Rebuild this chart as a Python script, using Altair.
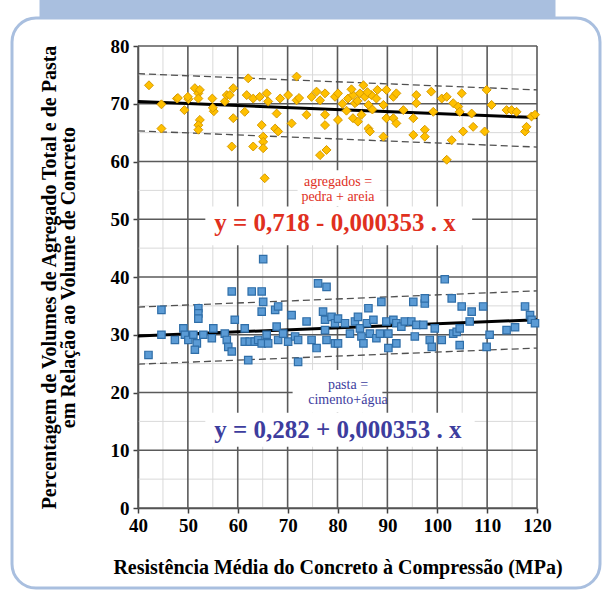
import altair as alt
import pandas as pd

# ---------------- data ----------------
agg_x = [42.2, 44.7, 44.7, 47.8, 49.3, 50.1, 51.4, 52.1, 52.1, 52.4, 52.1, 52.1, 54.9, 55.2,
         57.4, 57.8, 59.1, 59.1, 58.8, 61.8, 62.1, 61.4, 63.1, 64.4, 65.8, 66.1, 64.8, 65.1,
         65.1, 65.1, 63.1, 65.4, 67.8, 67.5, 68.1, 68.5, 70.1, 71.8, 70.8, 71.8, 72.3, 73.8,
         74.8, 75.8, 76.5, 77.5, 77.5, 77.5, 76.5, 77.8, 79.5, 80.1, 80.1, 82.1, 83.1, 83.5,
         84.5, 85.2, 85.5, 86.2, 86.8, 87.8, 89.2, 83.1, 84.1, 84.8, 86.2, 86.5, 89.2, 89.8,
         91.2, 91.8, 89.8, 91.2, 91.8, 93.2, 95.2, 95.2, 95.8, 95.8, 97.5, 97.5, 98.8, 99.2,
         100.9, 101.9, 101.9, 102.9, 103.2, 104.2, 104.5, 104.9, 105.2, 106.9, 107.2, 109.5,
         109.9, 110.9, 113.9, 114.9, 115.9, 117.6, 117.9, 118.9, 119.6,
         48.0, 50.0, 52.4, 55.0, 58.4, 82.8, 81.0, 84.0, 86.0, 87.0, 88.0, 81.8]
agg_y = [73.2, 65.7, 69.9, 70.9, 68.9, 70.8, 72.7, 71.8, 70.9, 67.2, 66.3, 65.5, 70.9, 68.7,
         70.4, 71.5, 72.7, 67.5, 62.6, 71.5, 74.4, 68.6, 70.9, 71.2, 71.8, 70.4, 66.3, 64.3,
         63.4, 62.3, 62.6, 57.1, 68.3, 65.7, 65.2, 70.9, 71.5, 74.7, 66.6, 70.6, 71.0, 68.1,
         71.2, 72.1, 70.6, 71.8, 68.1, 66.3, 61.1, 62.0, 71.2, 71.8, 67.2, 70.9, 71.5, 70.1,
         71.8, 73.2, 71.2, 69.8, 71.5, 70.9, 69.8, 67.5, 66.9, 68.1, 65.7, 65.2, 64.3, 72.4,
         71.2, 71.8, 67.5, 67.5, 66.6, 68.9, 67.5, 64.6, 71.5, 70.1, 65.5, 64.3, 72.1, 68.6,
         70.9, 71.2, 60.3, 63.7, 70.1, 69.5, 68.6, 71.8, 65.2, 68.3, 66.0, 65.2,
         72.4, 69.8, 68.9, 68.9, 68.6, 65.2, 66.0, 67.8, 68.1,
         71.0, 71.2, 72.4, 69.3, 71.5, 72.5, 70.0, 70.5, 72.0, 69.0, 72.4, 68.8]

pas_x = [65.1, 42.1, 44.7, 44.7, 47.4, 49.1, 49.4, 50.1, 51.1, 51.8, 51.4, 52.1, 52.1, 52.1,
         53.1, 54.8, 55.1, 57.4, 57.8, 58.1, 58.8, 58.8, 59.4, 61.4, 61.4, 62.4, 63.4, 64.1,
         64.8, 62.8, 64.8, 65.1, 64.8, 62.1, 65.8, 66.1, 67.5, 68.1, 67.8, 68.1, 69.1, 70.1,
         70.8, 71.5, 72.1, 72.1, 73.8, 74.8, 75.8, 76.1, 77.8, 77.1, 77.5, 77.5, 77.8, 78.8,
         79.5, 79.5, 101.5, 80.1, 80.1, 81.5, 82.5, 83.5, 84.1, 84.5, 84.8, 85.2, 85.9, 86.2,
         86.5, 87.2, 87.8, 88.5, 88.8, 89.8, 90.2, 90.2, 91.2, 91.8, 91.8, 92.8, 93.5, 94.8,
         95.8, 95.5, 97.2, 97.5, 97.5, 95.2, 98.5, 98.9, 99.5, 100.9, 102.9, 103.2, 103.9,
         104.5, 104.5, 104.9, 106.9, 106.5, 109.2, 109.9, 110.5, 113.9, 115.6, 117.6, 118.6,
         118.9, 119.6]
pas_y = [43.1, 26.5, 34.3, 30.0, 29.1, 31.1, 30.0, 29.1, 30.0, 28.5, 27.4, 34.6, 33.7, 32.8,
         30.0, 29.4, 31.1, 30.2, 29.1, 27.9, 27.1, 37.5, 32.6, 31.1, 28.8, 28.8, 28.8, 29.1,
         28.5, 37.5, 37.5, 35.7, 34.0, 25.6, 30.0, 28.5, 34.3, 34.9, 31.4, 29.1, 30.2, 28.8,
         33.4, 29.7, 29.1, 25.3, 32.3, 29.1, 27.7, 38.9, 38.3, 34.0, 32.6, 30.8, 29.1, 33.1,
         32.0, 28.5, 39.6, 32.8, 28.5, 32.0, 30.2, 32.3, 33.1, 31.1, 29.7, 28.5, 32.0, 34.6,
         30.2, 32.6, 29.4, 30.2, 35.7, 32.3, 30.2, 27.7, 32.6, 32.0, 28.5, 31.4, 32.3, 32.3,
         31.7, 29.7, 31.7, 35.4, 36.3, 35.7, 29.1, 27.9, 31.1, 29.1, 36.3, 30.2, 30.5,
         31.1, 28.2, 34.9, 34.0, 32.3, 34.9, 27.9, 30.0, 30.8, 31.3, 34.9, 33.4,
         32.6, 32.0]

line_x = [40, 120]
agg_fit = [70.4, 67.6]
agg_upper = [75.2, 72.4]
agg_lower = [65.3, 62.5]
pas_fit = [29.8, 32.6]
pas_upper = [34.8, 37.6]
pas_lower = [24.9, 27.7]

major_x = [40, 50, 60, 70, 80, 90, 100, 110, 120]
major_y = [0, 10, 20, 30, 40, 50, 60, 70, 80]
minor_x = [45, 55, 65, 75, 85, 95, 105, 115]
minor_y = [5, 15, 25, 35, 45, 55, 65, 75]

labels_text = ["agregados =", "pedra + areia", "y = 0,718 - 0,000353 . x",
               "pasta =", "cimento+água", "y = 0,282 + 0,000353 . x"]
labels_x = [80.1, 80.1, 79.5, 82.1, 82.1, 80.1]
labels_y = [56.4, 53.9, 49.4, 21.3, 18.7, 13.5]
labels_group = ["r_small", "r_small", "r_big", "b_small", "b_small", "b_big"]

box_x1 = [53.5, 72.0, 71.0, 53.5]
box_x2 = [107.0, 88.5, 89.0, 107.5]
box_y1 = [45.5, 52.2, 16.5, 10.6]
box_y2 = [52.2, 58.5, 23.9, 16.5]

# ---------------- tables ----------------
agg_df = pd.DataFrame({"x": agg_x, "y": agg_y})
pas_df = pd.DataFrame({"x": pas_x, "y": pas_y})
rows = []
for name, vals, kind in [("agg_fit", agg_fit, "fit"), ("agg_up", agg_upper, "band"),
                         ("agg_lo", agg_lower, "band"), ("pas_fit", pas_fit, "fit"),
                         ("pas_up", pas_upper, "band"), ("pas_lo", pas_lower, "band")]:
    for xv, yv in zip(line_x, vals):
        rows.append({"x": xv, "y": yv, "line": name, "kind": kind})
lines_df = pd.DataFrame(rows)
lab_df = pd.DataFrame({"t": labels_text, "x": labels_x, "y": labels_y, "g": labels_group})
box_df = pd.DataFrame({"x1": box_x1, "x2": box_x2, "y1": box_y1, "y2": box_y2})

SERIF = "Liberation Serif, Times New Roman, serif"
xs = alt.Scale(domain=[40, 120], nice=False, zero=False)
ys = alt.Scale(domain=[0, 80], nice=False)
xax = alt.Axis(values=major_x, grid=False, title="Resistência Média do Concreto à Compressão (MPa)",
               labelFont=SERIF, labelFontWeight="bold", labelFontSize=19, labelColor="black",
               titleFont=SERIF, titleFontWeight="bold", titleFontSize=20, titleColor="black",
               titlePadding=22, tickColor="#404040", tickSize=5, tickWidth=1.5,
               domainColor="#404040", domainWidth=1.5, labelPadding=3, labelFlush=False)
yax = alt.Axis(values=major_y, grid=False,
               title=["Percentagem de Volumes de Agregado Total e de Pasta",
                      "em Relação ao Volume de Concreto"],
               labelFont=SERIF, labelFontWeight="bold", labelFontSize=19, labelColor="black",
               titleFont=SERIF, titleFontWeight="bold", titleFontSize=20, titleColor="black",
               titleLineHeight=19, titleX=-79, titleY=231, titleAngle=270, titleBaseline="bottom",
               tickColor="#404040", tickSize=5, tickWidth=1.5,
               domainColor="#404040", domainWidth=1.5, labelPadding=4)

X = lambda f: alt.X(f, type="quantitative", scale=xs, axis=xax)
Y = lambda f: alt.Y(f, type="quantitative", scale=ys, axis=yax)

minor_v = alt.Chart(pd.DataFrame({"v": minor_x})).mark_rule(color="#d9d9d9", strokeWidth=1).encode(x=X("v"))
minor_h = alt.Chart(pd.DataFrame({"v": minor_y})).mark_rule(color="#d9d9d9", strokeWidth=1).encode(y=Y("v"))
major_v = alt.Chart(pd.DataFrame({"v": major_x})).mark_rule(color="#5a5a5a", strokeWidth=1.6).encode(x=X("v"))
major_h = alt.Chart(pd.DataFrame({"v": major_y})).mark_rule(color="#5a5a5a", strokeWidth=1.6).encode(y=Y("v"))

boxes = alt.Chart(box_df).mark_rect(color="white").encode(
    x=X("x1"), x2="x2", y=Y("y1"), y2="y2")

band_lines = alt.Chart(lines_df).transform_filter(alt.datum.kind == "band").mark_line(
    color="#505050", strokeWidth=1.3, strokeDash=[7, 4]).encode(x=X("x"), y=Y("y"), detail="line:N")
fit_lines = alt.Chart(lines_df).transform_filter(alt.datum.kind == "fit").mark_line(
    color="black", strokeWidth=3).encode(x=X("x"), y=Y("y"), detail="line:N")

agg_pts = alt.Chart(agg_df).mark_point(shape="diamond", filled=True, fill="#ffc000",
                                       stroke="#d69a00", strokeWidth=1, size=80, opacity=1).encode(
    x=X("x"), y=Y("y"))
pas_pts = alt.Chart(pas_df).mark_point(shape="square", filled=True, fill="#5b9bd5",
                                       stroke="#2f6ea8", strokeWidth=1.2, size=55, opacity=1).encode(
    x=X("x"), y=Y("y"))

def txt(group, color, size, weight):
    return alt.Chart(lab_df).transform_filter(alt.datum.g == group).mark_text(
        font=SERIF, fontSize=size, fontWeight=weight, color=color).encode(
        x=X("x"), y=Y("y"), text="t:N")

RED = "#e0301e"
BLUE = "#3d3d9e"
texts = [txt("r_small", RED, 14, "normal"), txt("r_big", RED, 25, "bold"),
         txt("b_small", BLUE, 14, "normal"), txt("b_big", BLUE, 25, "bold")]

deco = pd.DataFrame({"k": [1]})
band = alt.Chart(deco).mark_rect(fill="#a9bfdf", stroke="#a9bfdf").encode(
    x=alt.value(-98), x2=alt.value(417), y=alt.value(-46), y2=alt.value(-28))
frame = alt.Chart(deco).mark_rect(fill="white", fillOpacity=0, stroke="#a9bfdf",
                                   strokeWidth=3, cornerRadius=24).encode(
    x=alt.value(-126), x2=alt.value(462), y=alt.value(-28), y2=alt.value(542))

chart = alt.layer(minor_v, minor_h, major_v, major_h, boxes, band_lines, fit_lines,
                  agg_pts, pas_pts, *texts, band, frame).properties(
    width=399, height=462,
    autosize=alt.AutoSizeParams(type="none"),
    padding={"left": 138, "top": 46, "right": 69, "bottom": 86},
    background="white",
).configure_view(strokeWidth=0)

chart.save("out.html", embed_options={"renderer": "svg", "actions": False})
